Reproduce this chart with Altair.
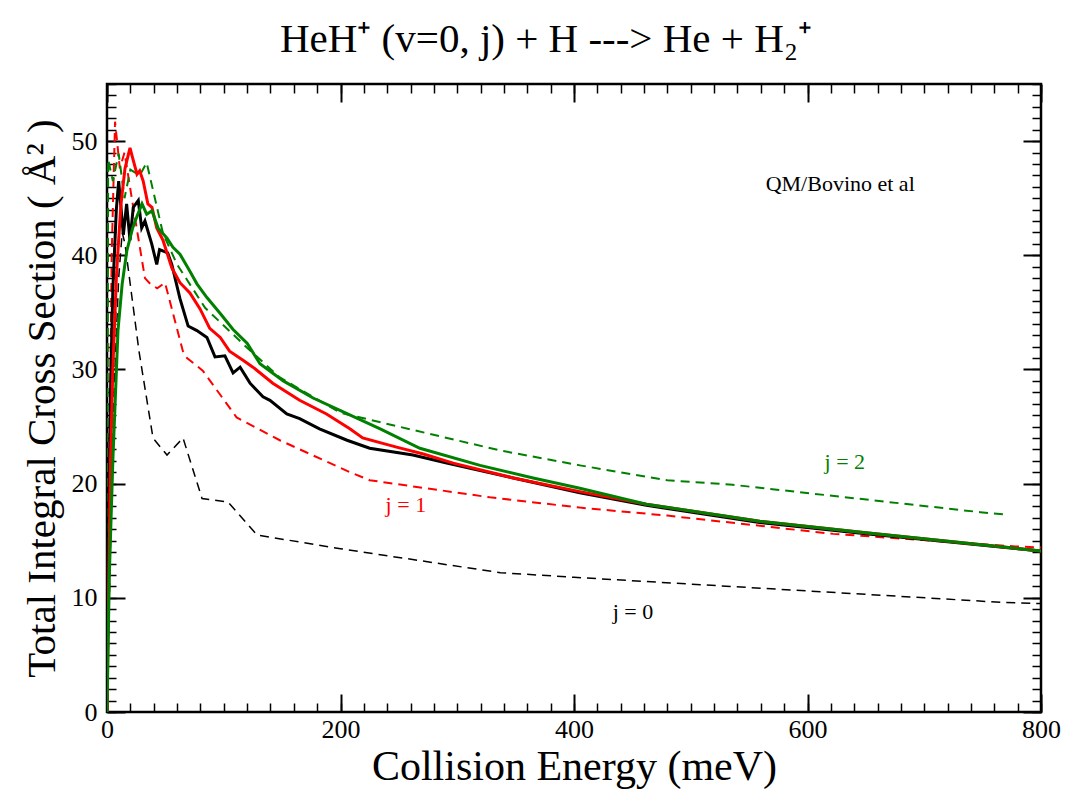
import altair as alt
import pandas as pd

# ---------------- data ----------------
# black solid
blk_x = [0, 1, 3, 5, 8, 10, 14, 16.8, 19.7, 22.5, 26.8, 29.7, 32.5, 38.3, 42.6, 45, 52, 55.5,
         62.5, 69.5, 77, 85.6, 92.5, 101, 108, 114, 122.5, 133.6, 139.6, 154, 165, 182, 205.6,
         225, 262, 291, 348, 405, 462, 559, 650, 720, 800]
blk_y = [3, 12, 28, 37, 44, 46.5, 41.8, 44.5, 41.3, 44.2, 44.8, 42.4, 43.0, 41.0, 39.2, 40.5,
         40.2, 39.2, 36.2, 33.8, 33.4, 32.8, 31.1, 31.2, 29.7, 30.2, 28.8, 27.6, 27.3, 26.1, 25.7,
         24.8, 23.8, 23.1, 22.5, 21.8, 20.5, 19.2, 18.1, 16.6, 15.6, 14.9, 14.1]
# red solid
red_x = [0, 1, 3, 5, 8, 9.4, 12, 15.4, 19.7, 22, 25.7, 28, 31, 35, 38.5, 42.6, 48, 55.5, 62.5,
         71, 79.7, 88, 97, 105, 116.5, 125, 142, 165, 188, 208, 219, 248, 271, 296.5, 348, 405,
         462, 559, 650, 800]
red_y = [0, 8, 22, 30, 38, 40.4, 44.5, 47.6, 49.4, 48.5, 47.1, 47.4, 46.5, 44.5, 44.2, 42.4,
         41.3, 38.9, 37.6, 36.7, 35.3, 33.6, 32.8, 31.6, 30.8, 30.2, 28.8, 27.3, 26.1, 24.8, 24.0,
         23.2, 22.6, 21.8, 20.5, 19.3, 18.2, 16.7, 15.7, 14.1]
# green solid
grn_x = [0, 1, 2, 5, 9.4, 13, 17, 22, 26, 30, 34, 38.5, 43.7, 51.4, 56.5, 62.5, 71, 77, 85.6,
         97, 108, 120, 131, 151, 176.5, 200, 234, 268, 319.5, 365, 405, 462, 559, 650, 800]
grn_y = [0, 6, 12, 22, 33.4, 37.5, 40.4, 42.4, 43.5, 44.5, 43.6, 43.9, 42.4, 41.5, 40.7, 40.1,
         38.6, 37.5, 36.3, 34.9, 33.5, 32.3, 30.5, 29.0, 27.5, 26.4, 24.8, 23.1, 21.6, 20.5, 19.6,
         18.2, 16.7, 15.7, 14.1]
# dashed: j = 0 (black)
bd_x = [0, 3, 6, 10, 13, 15.4, 27.4, 39.4, 51.4, 65.1, 81.4, 103.6, 128.5, 200, 337, 400, 500,
        600, 767, 800]
bd_y = [0, 15, 28, 38, 42, 41, 31.6, 24.0, 22.5, 24.0, 18.7, 18.4, 15.5, 14.3, 12.2, 11.8, 11.2,
        10.6, 9.6, 9.5]
# dashed: j = 1 (red)
rd_x = [0, 2, 4, 6.9, 11, 15, 22, 32.5, 37, 43, 49.7, 65, 68.5, 82, 111, 148, 208, 225, 328, 405,
        480, 622, 778, 800]
rd_y = [0, 20, 40, 51.7, 47.6, 49, 44.5, 38, 37.5, 37.1, 37.6, 31.6, 31.0, 29.9, 25.8, 23.8,
        21.0, 20.3, 18.8, 17.9, 17.2, 15.6, 14.5, 14.4]
# dashed: j = 2 (green)
gd_x = [0, 1, 5, 10, 15, 20, 28, 34, 48, 60, 84, 120, 148, 200, 337, 405, 480, 536, 748, 769]
gd_y = [0, 48.4, 46.5, 48.9, 45, 47.5, 47, 48.1, 41.9, 39.2, 35.4, 31.9, 29.3, 26.2, 22.9, 21.6,
        20.3, 19.9, 17.5, 17.3]

# annotations
ann_text = ["QM/Bovino et al", "j = 2", "j = 1", "j = 0"]
ann_x = [628, 632, 256, 450.5]
ann_y = [46.2, 21.9, 18.1, 8.8]
ann_color = ["#000000", "#008000", "#ff0000", "#000000"]

# tick values
x_major = [0, 200, 400, 600, 800]
x_minor = list(range(0, 801, 20))
y_major = [0, 10, 20, 30, 40, 50]
y_minor = list(range(0, 56, 1))

FONT = "Liberation Serif"
XS = alt.Scale(domain=[0, 800], nice=False, zero=False)
YS = alt.Scale(domain=[0, 55], nice=False, zero=False)

series = [
    (bd_x, bd_y, "#000000", [9, 6], 1.5),
    (rd_x, rd_y, "#ff0000", [9, 6], 2.0),
    (gd_x, gd_y, "#008000", [9, 6], 2.0),
    (blk_x, blk_y, "#000000", None, 3.0),
    (red_x, red_y, "#ff0000", None, 3.0),
    (grn_x, grn_y, "#008000", None, 3.0),
]

layers = []
for xs, ys, col, dash, w in series:
    df = pd.DataFrame({"x": xs, "y": ys})
    kw = dict(color=col, strokeWidth=w, clip=True)
    if dash:
        kw["strokeDash"] = dash
    layers.append(
        alt.Chart(df).mark_line(**kw).encode(
            x=alt.X("x:Q", scale=XS, axis=None),
            y=alt.Y("y:Q", scale=YS, axis=None),
        )
    )

ann_df = pd.DataFrame({"t": ann_text, "x": ann_x, "y": ann_y, "c": ann_color})
layers.append(
    alt.Chart(ann_df).mark_text(font=FONT, fontSize=22, align="center", baseline="middle").encode(
        x=alt.X("x:Q", scale=XS, axis=None),
        y=alt.Y("y:Q", scale=YS, axis=None),
        text="t:N",
        color=alt.Color("c:N", scale=None),
    )
)

frame_df = pd.DataFrame({"x": [0, 800], "y": [0, 55]})


def axis_layer(xaxis, yaxis):
    return alt.Chart(frame_df).mark_point(opacity=0).encode(
        x=alt.X("x:Q", scale=XS, axis=xaxis),
        y=alt.Y("y:Q", scale=YS, axis=yaxis),
    )


# labelled axes (no ticks)
layers.append(axis_layer(
    alt.Axis(orient="bottom", values=x_major, ticks=False, domain=False, grid=False,
             labelFont=FONT, labelFontSize=26, labelPadding=4, labelFlush=False,
             labelColor="black", format="d",
             title="Collision Energy (meV)", titleFont=FONT, titleFontSize=42,
             titleFontWeight="normal", titlePadding=4, titleColor="black"),
    alt.Axis(orient="left", values=y_major, ticks=False, domain=False, grid=False,
             labelFont=FONT, labelFontSize=26, labelPadding=10, labelFlush=False,
             labelColor="black", format="d",
             title="Total Integral Cross Section ( Å² )", titleFont=FONT, titleFontSize=41,
             titleFontWeight="normal", titlePadding=8, titleColor="black"),
))


def tick_axis(orient, values, size, width):
    return alt.Axis(orient=orient, values=values, labels=False, domain=False, grid=False,
                    ticks=True, tickSize=size, tickWidth=width, tickColor="black",
                    offset=-size, title=None)


for o_x, o_y in [("bottom", "left"), ("top", "right")]:
    layers.append(axis_layer(tick_axis(o_x, x_minor, 9, 1.5), tick_axis(o_y, y_minor, 9, 1.5)))
    layers.append(axis_layer(tick_axis(o_x, x_major, 18, 2), tick_axis(o_y, y_major, 18, 2)))

chart = alt.layer(*layers).resolve_axis(x="independent", y="independent").properties(
    width=934,
    height=628,
    padding={"left": 107, "top": 84, "right": 24, "bottom": 79},
    autosize=alt.AutoSizeParams(type="none"),
    title=alt.TitleParams("HeH⁺ (v=0, j) + H ---> He + H₂⁺", font=FONT, fontSize=41,
                          fontWeight="normal", anchor="middle", dx=-28, offset=20,
                          color="black"),
    background="white",
).configure_view(stroke="black", strokeWidth=2.5).configure_axis(
    labelFont=FONT, titleFont=FONT
).configure_title(font=FONT)

chart.save("out.html", embed_options={"renderer": "svg", "actions": False})
